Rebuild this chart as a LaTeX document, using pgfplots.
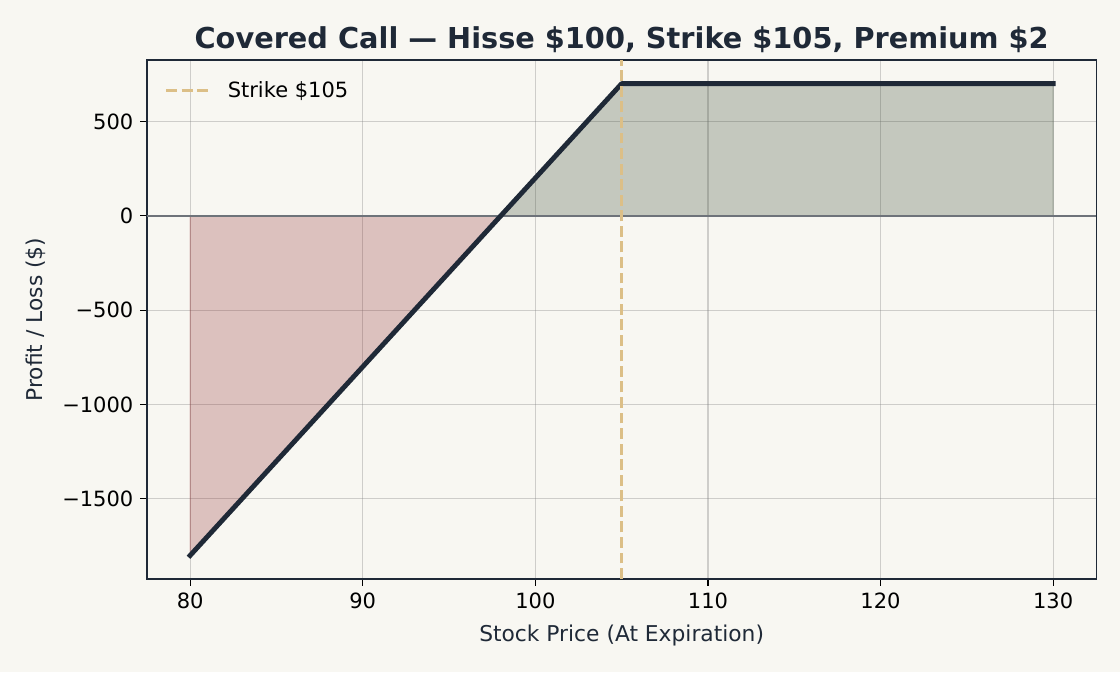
\documentclass[border=0pt]{standalone}
\usepackage{fontspec}
\setmainfont{DejaVu Sans}
\usepackage{pgfplots}
\pgfplotsset{compat=1.18}

\definecolor{bg}{HTML}{F8F7F2}
\definecolor{navy}{HTML}{1F2937}
\definecolor{lossred}{HTML}{8C2326}
\definecolor{gaingreen}{HTML}{2C3F26}
\definecolor{strikegold}{HTML}{DCBF87}
\definecolor{zerogray}{HTML}{6E737A}

\pgfplotsset{
    longline legend/.style={
        legend image code/.code={\draw[##1] (0pt,0pt) -- (23pt,0pt); \path (29pt,0pt);}
    },
}

\begin{document}
\begin{tikzpicture}
\fill[bg] (0,0) rectangle (576pt,345.6pt);
\path[use as bounding box] (0,0) rectangle (576pt,345.6pt);
\begin{axis}[
    at={(75.6pt,47.8pt)}, anchor=south west,
    scale only axis, width=488.2pt, height=266.9pt,
    xmin=77.5, xmax=132.5,
    ymin=-1925, ymax=825,
    axis background/.style={fill=bg},
    axis line style={navy, line width=0.6pt},
    xtick={80,90,100,110,120,130},
    xticklabels={80,90,100,110,120,130},
    ytick={-1500,-1000,-500,0,500},
    yticklabels={−1500,−1000,−500,0,500},
    tick pos=left,
    tick align=outside,
    major tick length=3.5pt,
    tick style={black, line width=0.6pt},
    ticklabel style={font=\fontsize{10.8}{13}\selectfont, text=black},
    grid=major,
    major grid style={gray, opacity=0.35, line width=0.6pt},
    title={Covered Call — Hisse \$100, Strike \$105, Premium \$2},
    title style={font=\fontsize{14.8}{17}\selectfont\bfseries, text=navy,
                 at={(0.5,1)}, anchor=south, yshift=-5.5pt},
    xlabel={Stock Price (At Expiration)},
    ylabel={Profit / Loss (\$)},
    label style={font=\fontsize{11.2}{13}\selectfont, text=navy},
    xlabel style={yshift=-1.5pt},
    ylabel style={yshift=1.5pt},
    legend style={at={(0.012,0.975)}, anchor=north west, draw=none, fill=none,
                  font=\fontsize{10.8}{13}\selectfont, row sep=2pt},
    legend cell align=left,
]
% loss and gain areas
\addplot[fill=lossred, fill opacity=0.25, draw=lossred, draw opacity=0.3,
         line width=0.6pt, forget plot]
    coordinates {(80,0) (80,-1800) (98,0)} -- cycle;
\addplot[fill=gaingreen, fill opacity=0.25, draw=gaingreen, draw opacity=0.3,
         line width=0.6pt, forget plot]
    coordinates {(98,0) (105,700) (130,700) (130,0)} -- cycle;
% zero line
\addplot[zerogray, line width=0.8pt, forget plot]
    coordinates {(77.5,0) (132.5,0)};
% payoff
\addplot[navy, line width=2.5pt, line cap=rect, line join=round, forget plot]
    coordinates {(80,-1800) (98,0) (105,700) (130,700)};
% strike
\addplot[strikegold, line width=1.5pt, dash pattern=on 5.6pt off 2.4pt,
         longline legend]
    coordinates {(105,-1925) (105,825)};
\addlegendentry{Strike \$105}
\end{axis}
\end{tikzpicture}
\end{document}
